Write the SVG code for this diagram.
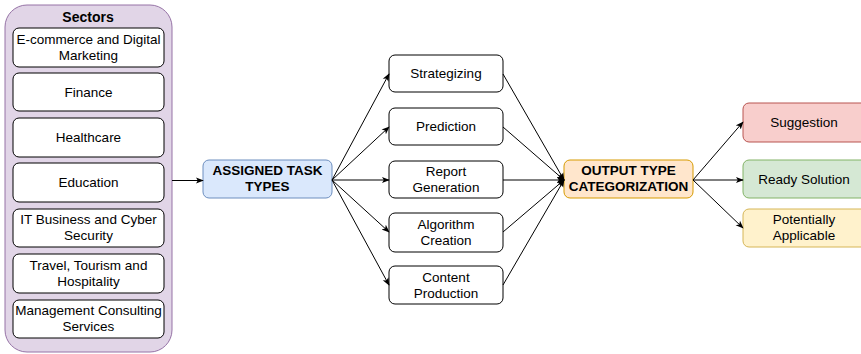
<svg xmlns="http://www.w3.org/2000/svg" width="861" height="354" viewBox="0 0 861 354">
  <style>
    text { font-family: "Liberation Sans", Arial, sans-serif; font-size: 13.5px; fill: #000; text-anchor: middle; }
    .b { font-weight: bold; }
    .box { fill: #fff; stroke: #000; stroke-width: 1; }
    .edge { fill: none; stroke: #000; stroke-width: 1; marker-end: url(#arr); }
  </style>
  <defs>
    <marker id="arr" viewBox="0 0 10 10" refX="9" refY="5" markerWidth="8" markerHeight="8" markerUnits="userSpaceOnUse" orient="auto">
      <path d="M0,1 L10,5 L0,9 L2.5,5 Z" fill="#000"/>
    </marker>
  </defs>

  <!-- Sectors container -->
  <g id="sectors">
    <rect x="5" y="5" width="167" height="347" rx="22" fill="#e1d5e7" stroke="#9673a6"/>
    <text class="b" x="88" y="22" style="font-size:14px">Sectors</text>
  </g>
  <g id="sector-ecommerce">
    <rect class="box" x="13" y="28" width="151" height="39" rx="6"/>
    <text x="88.5" y="44">E-commerce and Digital</text>
    <text x="88.5" y="60">Marketing</text>
  </g>
  <g id="sector-finance">
    <rect class="box" x="13" y="73" width="151" height="38" rx="6"/>
    <text x="88.5" y="97">Finance</text>
  </g>
  <g id="sector-healthcare">
    <rect class="box" x="13" y="118" width="151" height="39" rx="6"/>
    <text x="88.5" y="142">Healthcare</text>
  </g>
  <g id="sector-education">
    <rect class="box" x="13" y="163" width="151" height="39" rx="6"/>
    <text x="88.5" y="187">Education</text>
  </g>
  <g id="sector-it">
    <rect class="box" x="13" y="209" width="151" height="38" rx="6"/>
    <text x="88.5" y="224">IT Business and Cyber</text>
    <text x="88.5" y="240">Security</text>
  </g>
  <g id="sector-travel">
    <rect class="box" x="13" y="254" width="151" height="39" rx="6"/>
    <text x="88.5" y="270">Travel, Tourism and</text>
    <text x="88.5" y="286">Hospitality</text>
  </g>
  <g id="sector-consulting">
    <rect class="box" x="13" y="300" width="151" height="38" rx="6"/>
    <text x="88.5" y="315">Management Consulting</text>
    <text x="88.5" y="331">Services</text>
  </g>

  <!-- Task types -->
  <g id="assigned">
    <rect x="203" y="160" width="129" height="38" rx="6" fill="#dae8fc" stroke="#6c8ebf"/>
    <text class="b" x="267.5" y="175">ASSIGNED TASK</text>
    <text class="b" x="267.5" y="191">TYPES</text>
  </g>
  <g id="strategizing">
    <rect class="box" x="389" y="55" width="114" height="37" rx="6"/>
    <text x="446" y="78">Strategizing</text>
  </g>
  <g id="prediction">
    <rect class="box" x="389" y="108" width="114" height="37" rx="6"/>
    <text x="446" y="131">Prediction</text>
  </g>
  <g id="report">
    <rect class="box" x="389" y="161" width="114" height="37" rx="6"/>
    <text x="446" y="176">Report</text>
    <text x="446" y="192">Generation</text>
  </g>
  <g id="algorithm">
    <rect class="box" x="389" y="213" width="114" height="39" rx="6"/>
    <text x="446" y="229">Algorithm</text>
    <text x="446" y="245">Creation</text>
  </g>
  <g id="content">
    <rect class="box" x="389" y="266" width="114" height="38" rx="6"/>
    <text x="446" y="282">Content</text>
    <text x="446" y="298">Production</text>
  </g>

  <!-- Output categorization -->
  <g id="output">
    <rect x="564" y="160" width="129" height="38" rx="6" fill="#ffe6cc" stroke="#d79b00"/>
    <text class="b" x="628.5" y="175">OUTPUT TYPE</text>
    <text class="b" x="628.5" y="191">CATEGORIZATION</text>
  </g>
  <g id="suggestion">
    <rect x="743" y="103" width="130" height="39" rx="6" fill="#f8cecc" stroke="#b85450"/>
    <text x="804" y="127">Suggestion</text>
  </g>
  <g id="ready">
    <rect x="743" y="160" width="130" height="38" rx="6" fill="#d5e8d4" stroke="#82b366"/>
    <text x="804" y="184">Ready Solution</text>
  </g>
  <g id="potential">
    <rect x="743" y="209" width="130" height="38" rx="6" fill="#fff2cc" stroke="#d6b656"/>
    <text x="804" y="224">Potentially</text>
    <text x="804" y="240">Applicable</text>
  </g>

  <!-- Connectors -->
  <g id="connectors">
    <path class="edge" d="M172,180.5 L203,180.5"/>
    <path class="edge" d="M332,180 L389,74"/>
    <path class="edge" d="M332,180 L389,127"/>
    <path class="edge" d="M332,180 L389,180"/>
    <path class="edge" d="M332,180 L389,232"/>
    <path class="edge" d="M332,180 L389,285"/>
    <path class="edge" d="M503,74 L564,180"/>
    <path class="edge" d="M503,127 L564,180"/>
    <path class="edge" d="M503,180 L564,180"/>
    <path class="edge" d="M503,232 L564,180"/>
    <path class="edge" d="M503,285 L564,180"/>
    <path class="edge" d="M693,180 L743,122"/>
    <path class="edge" d="M693,180 L743,180"/>
    <path class="edge" d="M693,180 L743,228"/>
  </g>
</svg>
